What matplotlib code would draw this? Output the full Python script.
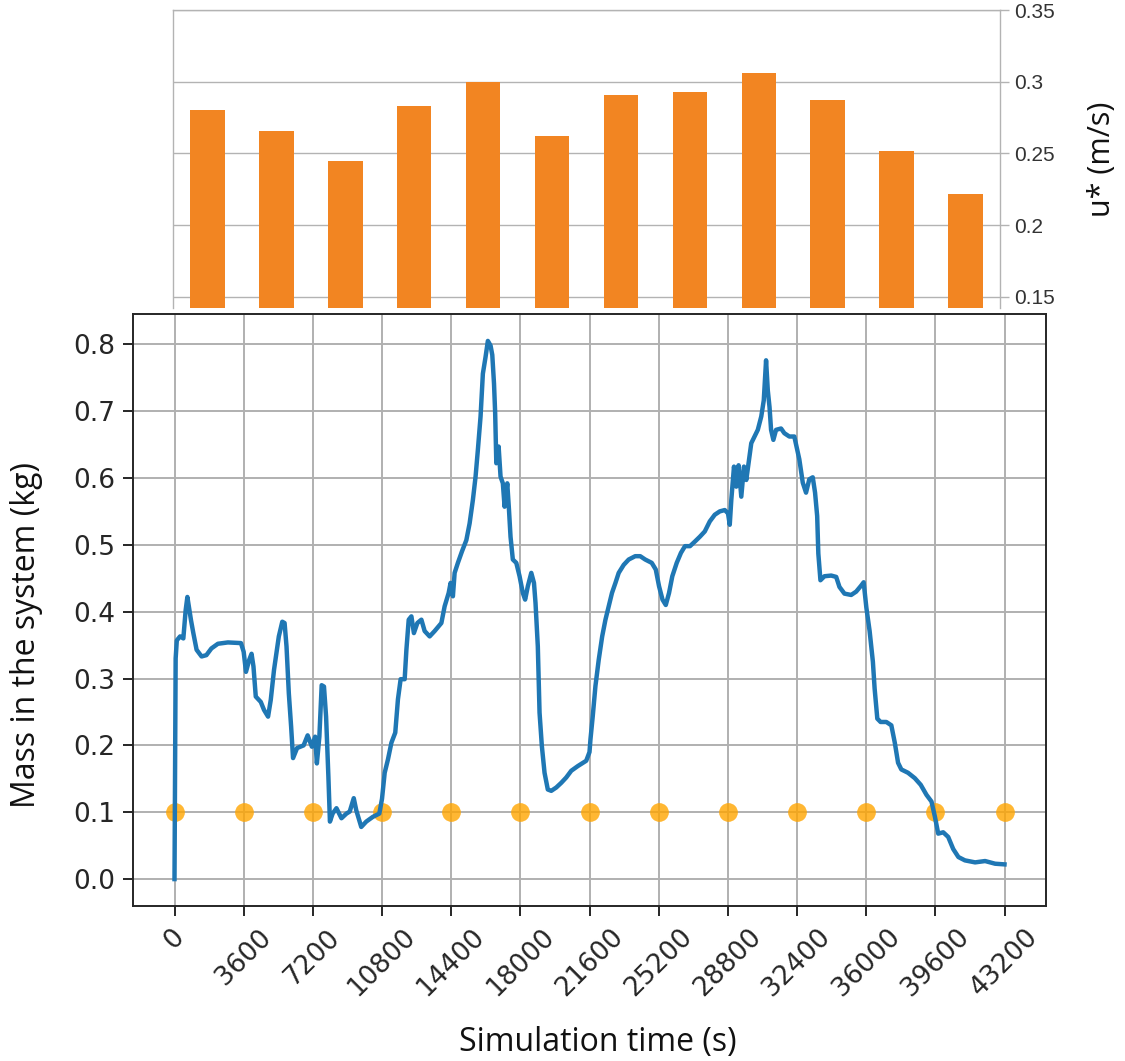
import matplotlib
matplotlib.use("Agg")
import matplotlib.pyplot as plt

# Hourly friction velocity u* (one bar per simulated hour)
hour_index = list(range(12))
ustar_ms = [0.280, 0.266, 0.245, 0.283, 0.300, 0.262,
            0.291, 0.293, 0.306, 0.287, 0.252, 0.222]
ustar_ticks = [0.15, 0.20, 0.25, 0.30, 0.35]
ustar_tick_labels = ["0.15", "0.2", "0.25", "0.3", "0.35"]

# Mass in the system over the simulation
time_s = [
    0, 60, 120, 290, 460, 580, 670, 750, 860, 980, 1150, 1410, 1660, 1920,
    2260, 2780, 3460, 3600, 3720, 3890, 4010, 4110, 4230, 4490, 4660, 4870,
    5010, 5180, 5430, 5610, 5730, 5830, 5950, 6070, 6170, 6380, 6720, 6930,
    7150, 7320, 7410, 7540, 7660, 7780, 7890, 8010, 8090, 8230, 8430, 8690,
    8950, 9120, 9330, 9460, 9720, 9980, 10320, 10660,
    10800, 10940, 11110, 11290, 11490, 11630, 11770, 11980, 12070, 12190,
    12330, 12460, 12640, 12850, 13020, 13280, 13540, 13890, 14060, 14270,
    14370, 14490, 14580, 14750, 14960, 15190, 15360, 15530, 15670, 15790,
    15930, 16050, 16190, 16310, 16450, 16540, 16630, 16690, 16750, 16870,
    16970, 17090, 17180, 17320, 17410, 17490, 17610, 17790, 17960, 18130,
    18250, 18390, 18570, 18710, 18790, 18910, 19000, 19120, 19260, 19430,
    19610, 19870, 20130, 20390, 20650, 20990, 21430, 21600,
    21650, 21770, 21910, 22080, 22260, 22430, 22600, 22770, 22950, 23120,
    23380, 23640, 23980, 24240, 24500, 24840, 25050, 25220, 25400, 25570,
    25740, 25910, 26140, 26360, 26570, 26830, 27090, 27340, 27600, 27860,
    28120, 28380, 28640, 28810, 28900, 28980, 29120, 29240, 29360, 29500,
    29640, 29760, 29880, 30020, 30190, 30360, 30540, 30670, 30790, 30880,
    30970, 31050, 31170, 31310, 31570, 31740, 32000, 32260,
    32350, 32520, 32700, 32870, 33040, 33220, 33340, 33450, 33510, 33620,
    33830, 34180, 34440, 34610, 34870, 35220, 35480, 35740, 35870, 36010,
    36180, 36350, 36440, 36580, 36750, 37050, 37310, 37490, 37660, 37830,
    38180, 38530, 38840, 39140, 39400, 39580, 39750, 40010, 40270, 40530,
    40800, 41140, 41670, 42190, 42710, 43200,
]
mass_kg = [
    0.000, 0.330, 0.357, 0.363, 0.360, 0.402, 0.422, 0.407, 0.387, 0.368,
    0.343, 0.333, 0.335, 0.345, 0.352, 0.354, 0.353, 0.340, 0.310, 0.328,
    0.337, 0.318, 0.273, 0.265, 0.253, 0.243, 0.268, 0.313, 0.363, 0.385,
    0.383, 0.348, 0.278, 0.228, 0.181, 0.196, 0.200, 0.215, 0.198, 0.213,
    0.173, 0.213, 0.290, 0.288, 0.243, 0.153, 0.086, 0.098, 0.106, 0.091,
    0.098, 0.101, 0.121, 0.103, 0.078, 0.086, 0.093, 0.098,
    0.120, 0.159, 0.179, 0.204, 0.219, 0.269, 0.299, 0.299, 0.343, 0.388,
    0.393, 0.368, 0.383, 0.388, 0.371, 0.363, 0.371, 0.383, 0.408, 0.428,
    0.443, 0.423, 0.458, 0.473, 0.490, 0.507, 0.532, 0.567, 0.602, 0.642,
    0.692, 0.756, 0.781, 0.805, 0.798, 0.784, 0.741, 0.697, 0.622, 0.647,
    0.602, 0.592, 0.557, 0.592, 0.552, 0.512, 0.478, 0.473, 0.453, 0.428,
    0.418, 0.438, 0.458, 0.443, 0.413, 0.348, 0.249, 0.199, 0.159, 0.134,
    0.132, 0.137, 0.144, 0.152, 0.162, 0.169, 0.177, 0.190,
    0.209, 0.244, 0.289, 0.328, 0.363, 0.388, 0.408, 0.428, 0.443, 0.458,
    0.470, 0.478, 0.483, 0.483, 0.478, 0.473, 0.463, 0.438, 0.418, 0.410,
    0.428, 0.453, 0.473, 0.488, 0.498, 0.498, 0.505, 0.512, 0.520, 0.535,
    0.545, 0.550, 0.552, 0.547, 0.530, 0.567, 0.617, 0.587, 0.619, 0.572,
    0.617, 0.597, 0.622, 0.652, 0.662, 0.672, 0.692, 0.716, 0.776, 0.731,
    0.706, 0.672, 0.657, 0.672, 0.674, 0.667, 0.662, 0.662,
    0.650, 0.628, 0.593, 0.578, 0.598, 0.601, 0.578, 0.543, 0.487, 0.447,
    0.453, 0.454, 0.452, 0.437, 0.427, 0.425, 0.430, 0.439, 0.444, 0.406,
    0.371, 0.325, 0.285, 0.240, 0.235, 0.235, 0.230, 0.204, 0.174, 0.164,
    0.159, 0.151, 0.141, 0.126, 0.116, 0.093, 0.068, 0.070, 0.063, 0.045,
    0.033, 0.028, 0.025, 0.027, 0.023, 0.022,
]

# Hour boundaries (x ticks) and the level of the hourly markers
hour_marks_s = [0, 3600, 7200, 10800, 14400, 18000, 21600, 25200,
                28800, 32400, 36000, 39600, 43200]
mass_ticks = [0.0, 0.1, 0.2, 0.3, 0.4, 0.5, 0.6, 0.7, 0.8]
marker_level_kg = 0.1

W, H = 1125, 1061
fig = plt.figure(figsize=(W / 100, H / 100), dpi=100)
fig.patch.set_facecolor("white")

label_font = ["Open Sans", "DejaVu Sans"]

# ---------------- upper panel: u* bars ----------------
ax_top = fig.add_axes([173 / W, 1 - 308 / H, 827 / W, 298 / H])
ax_top.bar(hour_index, ustar_ms, width=0.5, color="#F28522", zorder=3)
ax_top.set_xlim(-0.5, 11.5)
ax_top.set_ylim(0.1423, 0.35)
ax_top.set_xticks([])
ax_top.set_yticks(ustar_ticks)
ax_top.set_yticklabels(ustar_tick_labels, family=["Liberation Sans", "DejaVu Sans"])
ax_top.yaxis.tick_right()
ax_top.tick_params(axis="y", colors="#b3b3b3", labelcolor="#333333",
                   length=6.5, width=1.0, pad=4, labelsize=15)
ax_top.grid(axis="y", color="#b3b3b3", linewidth=1.0)
ax_top.set_axisbelow(True)
for side in ("left", "top", "right"):
    ax_top.spines[side].set_color("#b3b3b3")
    ax_top.spines[side].set_linewidth(1.0)
ax_top.spines["bottom"].set_visible(False)
ax_top.yaxis.set_label_position("right")
ax_top.set_ylabel("u* (m/s)", fontsize=22, family=label_font, color="#111111")
ax_top.yaxis.set_label_coords((1102 - 173) / 827, 0.5)
ax_top.yaxis.label.set_va("center")

# ---------------- lower panel: mass time series ----------------
ax = fig.add_axes([133 / W, 1 - 906 / H, 913 / W, 592 / H])
ax.set_facecolor("white")
ax.grid(True, color="#b0b0b0", linewidth=1.4)
ax.set_axisbelow(True)
ax.scatter(hour_marks_s, [marker_level_kg] * len(hour_marks_s),
           s=13.5 ** 2, color="orange", alpha=0.8, linewidths=0, zorder=3)
ax.plot(time_s, mass_kg, color="#1f77b4", linewidth=3.2, zorder=4,
        solid_joinstyle="round")

ax.set_xticks(hour_marks_s)
ax.set_xticklabels([str(t) for t in hour_marks_s], rotation=45)
ax.set_yticks(mass_ticks)
ax.tick_params(axis="both", labelsize=19, length=7, width=1.4, pad=6,
               color="#262626", labelcolor="#262626")
for side in ax.spines.values():
    side.set_color("#262626")
    side.set_linewidth(1.4)

ax.set_xlabel("Simulation time (s)", fontsize=23, family=label_font,
              color="#111111")
ax.xaxis.set_label_coords((598 - 133) / 913, (906 - 1051) / 592)
ax.xaxis.label.set_va("baseline")

ax.set_ylabel("Mass in the system (kg)", fontsize=23, family=label_font,
              color="#111111")
ax.yaxis.set_label_coords((27 - 133) / 913, (906 - 635) / 592)
ax.yaxis.label.set_va("center")

fig.savefig("out.png", dpi=100, facecolor="white")
